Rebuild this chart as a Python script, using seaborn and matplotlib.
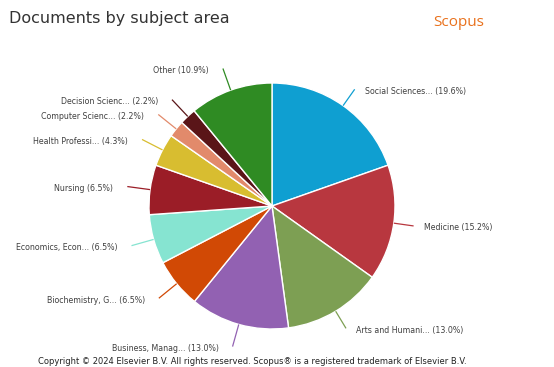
import numpy as np
import matplotlib
matplotlib.use("Agg")
import matplotlib.pyplot as plt
import seaborn as sns

# Subject areas and their share of documents (%)
subjects = [
    "Social Sciences...", "Medicine", "Arts and Humani...", "Business, Manag...",
    "Biochemistry, G...", "Economics, Econ...", "Nursing", "Health Professi...",
    "Computer Scienc...", "Decision Scienc...", "Other",
]
shares = [19.6, 15.2, 13.0, 13.0, 6.5, 6.5, 6.5, 4.3, 2.2, 2.2, 10.9]
slice_colors = [
    "#0f9fd1", "#b8373f", "#7d9f53", "#9261b2", "#d14905", "#86e4d1",
    "#9b1d27", "#d8bd30", "#e28a6b", "#5a1518", "#2f8b23",
]

sns.set_theme(style="white")
plt.rcParams["font.family"] = ["DejaVu Sans"]
palette = sns.color_palette(slice_colors)

W, H = 554, 367
fig = plt.figure(figsize=(W / 100, H / 100), dpi=100)
ax = fig.add_axes([0, 0, 1, 1])

cx, cy, R = 272, H - 206, 123
wedges, _ = ax.pie(
    shares, colors=palette, startangle=90, counterclock=False,
    center=(cx, cy), radius=R, frame=True,
    wedgeprops=dict(edgecolor="white", linewidth=1.0),
)
ax.set_xlim(0, W)
ax.set_ylim(0, H)
ax.set_aspect("equal")
ax.axis("off")

# leader lines and labels
gap = 20
for w, name, val, col in zip(wedges, subjects, shares, palette):
    mid = np.deg2rad((w.theta1 + w.theta2) / 2)
    c, s = np.cos(mid), np.sin(mid)
    right = c >= 0
    g = gap if right else gap + 3
    x0, y0 = cx + R * c, cy + R * s
    x1, y1 = cx + (R + g) * c, cy + (R + g) * s
    ax.plot([x0, x1], [y0, y1], color=col, lw=0.9, solid_capstyle="butt")
    ax.text(x1 + (10 if right else -14), y1 - 2, f"{name} ({val:.1f}%)",
            ha="left" if right else "right", va="center",
            fontsize=5.7, color="#404040")

fig.text(9 / W, 1 - 19 / H, "Documents by subject area", ha="left", va="center",
         fontsize=11.5, color="#333333")
fig.text(459 / W, 1 - 22 / H, "Scopus", ha="center", va="center",
         fontsize=11, color="#e9711c", family=["Open Sans", "DejaVu Sans"])
fig.text(252 / W, 1 - 361 / H,
         "Copyright \u00a9 2024 Elsevier B.V. All rights reserved. Scopus\u00ae is a registered trademark of Elsevier B.V.",
         ha="center", va="center", fontsize=6.0, color="#222222")

fig.savefig("out.png", dpi=100, facecolor="white")
